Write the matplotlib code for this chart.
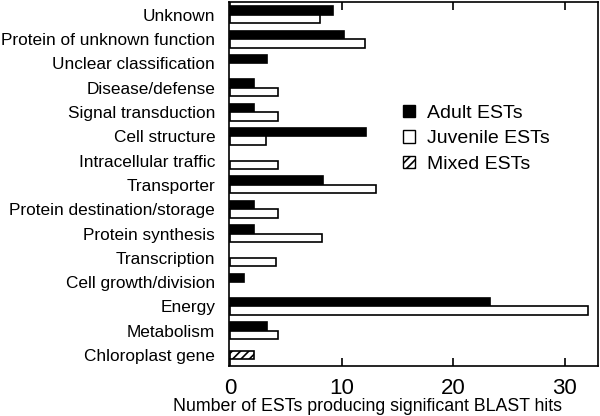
import matplotlib
matplotlib.use("Agg")
import matplotlib.pyplot as plt
import numpy as np
from matplotlib.patches import Patch

plt.rcParams['font.family'] = ['Liberation Sans', 'DejaVu Sans']
plt.rcParams['hatch.linewidth'] = 1.2

categories = ["Unknown", "Protein of unknown function", "Unclear classification",
              "Disease/defense", "Signal transduction", "Cell structure",
              "Intracellular traffic", "Transporter", "Protein destination/storage",
              "Protein synthesis", "Transcription", "Cell growth/division",
              "Energy", "Metabolism", "Chloroplast gene"]
adult = [9.2, 10.2, 3.3, 2.1, 2.1, 12.2, 0, 8.3, 2.1, 2.1, 0, 1.2, 23.3, 3.3, 0]
juvenile = [8.1, 12.1, 0, 4.3, 4.3, 3.2, 4.3, 13.1, 4.3, 8.2, 4.1, 0, 32.1, 4.3, 0]
mixed = [0, 0, 0, 0, 0, 0, 0, 0, 0, 0, 0, 0, 0, 0, 2.1]
xticks = [0, 10, 20, 30]

fig = plt.figure(figsize=(6, 4.16), dpi=100)
ax = fig.add_axes([0.3817, 0.1202, 0.615, 0.875])

y = np.arange(len(categories))
h = 0.35
for i in range(len(categories)):
    if mixed[i] > 0 and adult[i] == 0 and juvenile[i] == 0:
        ax.barh(y[i], mixed[i], height=h, facecolor='white', edgecolor='black',
                linewidth=1.2, hatch='////')
    else:
        if adult[i] > 0:
            ax.barh(y[i] - h / 2, adult[i], height=h, facecolor='black',
                    edgecolor='black', linewidth=1.2)
        if juvenile[i] > 0:
            ax.barh(y[i] + h / 2, juvenile[i], height=h, facecolor='white',
                    edgecolor='black', linewidth=1.2)

ax.set_xlim(-0.1, 33.0)
ax.set_ylim(len(categories) - 1 + 0.45, -0.53)
ax.set_yticks(y)
ax.set_yticklabels(categories, fontsize=12.4)
ax.tick_params(axis='y', length=0, pad=10)
ax.set_xticks(xticks)
ax.set_xticklabels([str(t) for t in xticks], fontsize=16)
ax.tick_params(axis='x', direction='in', length=5.5, width=1.2, top=True, pad=9)
for s in ax.spines.values():
    s.set_linewidth(1.2)
ax.set_xlabel("Number of ESTs producing significant BLAST hits", fontsize=12.8)
ax.xaxis.set_label_coords(0.375, -0.088)

handles = [Patch(facecolor='black', edgecolor='black', linewidth=1.0, label='Adult ESTs'),
           Patch(facecolor='white', edgecolor='black', linewidth=1.0, label='Juvenile ESTs'),
           Patch(facecolor='white', edgecolor='black', linewidth=1.0, hatch='////', label='Mixed ESTs')]
ax.legend(handles=handles, loc='center left', bbox_to_anchor=(0.425, 0.624), frameon=False,
          fontsize=14, handlelength=0.6, handleheight=0.6, handletextpad=0.6,
          labelspacing=0.45)

fig.savefig("out.png", dpi=100)
